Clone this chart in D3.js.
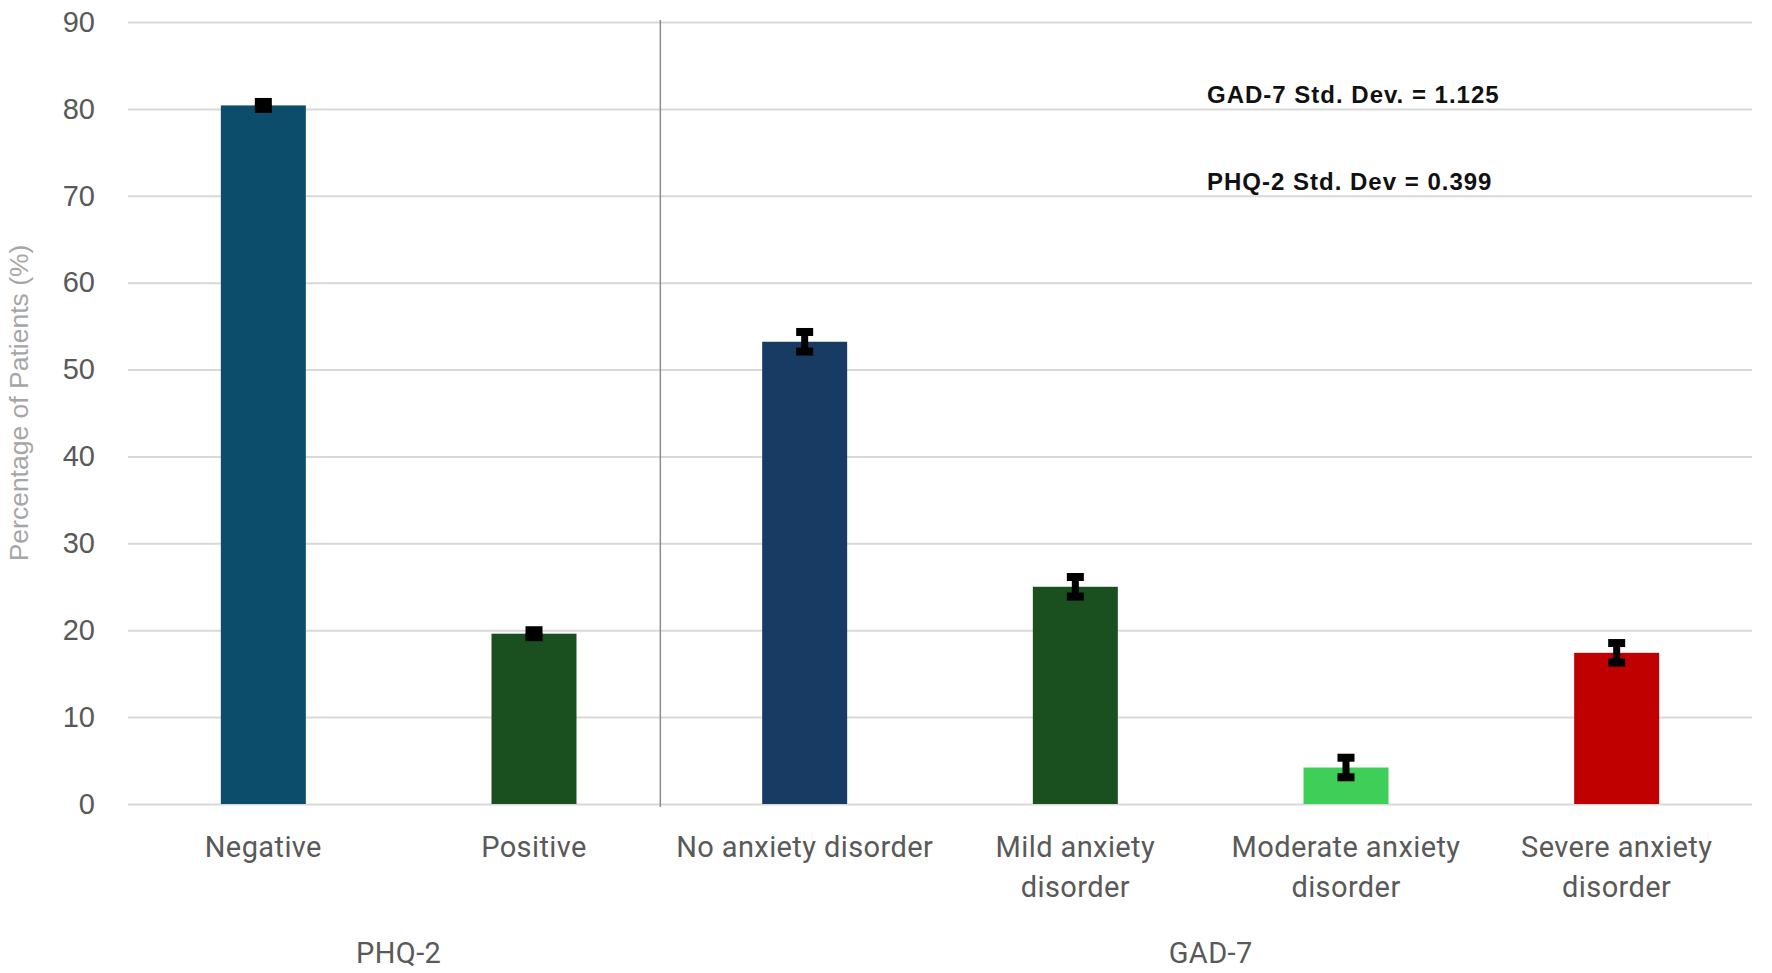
<!DOCTYPE html>
<html>
<head>
<meta charset="utf-8">
<script src="https://cdn.jsdelivr.net/npm/d3@7"></script>
<style>
  body { margin: 0; background: #fff; }
  #chart svg { display: block; }
</style>
</head>
<body>
<div id="chart"></div>
<script>
const categories = [
  'Negative',
  'Positive',
  'No anxiety disorder',
  'Mild anxiety disorder',
  'Moderate anxiety disorder',
  'Severe anxiety disorder',
];
const labelLines = [
  ['Negative'],
  ['Positive'],
  ['No anxiety disorder'],
  ['Mild anxiety', 'disorder'],
  ['Moderate anxiety', 'disorder'],
  ['Severe anxiety', 'disorder'],
];
const groupOf = ['PHQ-2', 'PHQ-2', 'GAD-7', 'GAD-7', 'GAD-7', 'GAD-7'];
const groups = ['PHQ-2', 'GAD-7'];
const percentages = [80.4, 19.6, 53.2, 25.0, 4.2, 17.4];
const stdDevs = [0.399, 0.399, 1.125, 1.125, 1.125, 1.125];
const yTicks = [0, 10, 20, 30, 40, 50, 60, 70, 80, 90];
const notes = ['GAD-7 Std. Dev. = 1.125', 'PHQ-2 Std. Dev = 0.399'];

const barColors = ['#0b4d6a', '#1a4f1f', '#183b63', '#1a4f1f', '#3fce58', '#c00000'];

const chartW = 1772;
const chartH = 973;
const plotLeft = 128;
const plotRight = 1752;
const plotTop = 22;
const plotBottom = 804;

const data = categories.map((c, i) => ({
  category: c,
  value: percentages[i],
  sd: stdDevs[i],
  lines: labelLines[i],
  group: groupOf[i],
}));

const svg = d3
  .select('#chart')
  .append('svg')
  .attr('width', chartW)
  .attr('height', chartH);

svg.append('rect').attr('width', chartW).attr('height', chartH).attr('fill', '#fff');

const x = d3.scaleBand().domain(categories).range([plotLeft, plotRight]).padding(0);
const y = d3.scaleLinear().domain([0, 90]).range([plotBottom, plotTop]);

// gridlines + y labels
const yAxis = svg
  .append('g')
  .attr('transform', `translate(${plotLeft},0)`)
  .call(
    d3
      .axisLeft(y)
      .tickValues(yTicks)
      .tickSize(-(plotRight - plotLeft))
      .tickPadding(33),
  );
yAxis.select('.domain').remove();
yAxis.selectAll('.tick line').attr('stroke', '#d9d9d9').attr('stroke-width', 2);
yAxis
  .selectAll('.tick text')
  .attr('fill', '#595959')
  .style('font-family', '"Liberation Sans", Arial, sans-serif')
  .style('font-size', '29px');

svg
  .append('text')
  .attr('transform', 'translate(28,403) rotate(-90)')
  .style('text-anchor', 'middle')
  .style('font-family', '"Liberation Sans", Arial, sans-serif')
  .style('font-size', '26.5px')
  .attr('fill', '#a6a6a6')
  .text('Percentage of Patients (%)');

// group divider
svg
  .append('line')
  .attr('x1', x(categories[2]) - 9)
  .attr('x2', x(categories[2]) - 9)
  .attr('y1', plotTop - 2)
  .attr('y2', plotBottom + 3)
  .attr('stroke', '#8c8c8c')
  .attr('stroke-width', 1.5);

// bars
const barW = x.bandwidth() * 0.314;
const cx = (d) => x(d.category) + x.bandwidth() / 2;

svg
  .append('g')
  .selectAll('rect')
  .data(data)
  .enter()
  .append('rect')
  .attr('x', (d) => cx(d) - barW / 2)
  .attr('y', (d) => y(d.value))
  .attr('width', barW)
  .attr('height', (d) => y(0) - y(d.value))
  .attr('fill', (d, i) => barColors[i]);

// error bars
const err = svg.append('g').attr('fill', '#000');
data.forEach((d) => {
  const yHi = y(d.value + d.sd);
  const yLo = y(d.value - d.sd);
  err
    .append('rect')
    .attr('x', cx(d) - 3.5)
    .attr('y', yHi)
    .attr('width', 7)
    .attr('height', yLo - yHi);
  [yHi, yLo].forEach((yy) => {
    err
      .append('rect')
      .attr('x', cx(d) - 8.5)
      .attr('y', yy - 4)
      .attr('width', 17)
      .attr('height', 8);
  });
});

// category labels
const xAxis = svg
  .append('g')
  .attr('transform', `translate(0,${plotBottom})`)
  .call(d3.axisBottom(x).tickSize(0).tickFormat(''));
xAxis.select('.domain').remove();
xAxis.selectAll('.tick text').remove();
xAxis
  .selectAll('.tick')
  .data(data)
  .append('text')
  .attr('fill', '#595959')
  .style('text-anchor', 'middle')
  .style('font-family', 'Roboto, sans-serif')
  .style('font-size', '29px')
  .style('letter-spacing', '0.4px')
  .selectAll('tspan')
  .data((d) => d.lines)
  .enter()
  .append('tspan')
  .attr('x', 0)
  .attr('y', (d, i) => 53 + i * 40)
  .text((d) => d);

// group labels
svg
  .append('g')
  .selectAll('text')
  .data(groups)
  .enter()
  .append('text')
  .attr('x', (g) => {
    const cats = data.filter((d) => d.group === g);
    const x0 = x(cats[0].category);
    const x1 = x(cats[cats.length - 1].category) + x.bandwidth();
    return (x0 + x1) / 2;
  })
  .attr('y', 963)
  .attr('fill', '#595959')
  .style('text-anchor', 'middle')
  .style('font-family', 'Roboto, sans-serif')
  .style('font-size', '29px')
  .style('letter-spacing', '0.4px')
  .text((g) => g);

// std dev notes
svg
  .append('g')
  .selectAll('text')
  .data(notes)
  .enter()
  .append('text')
  .attr('x', 1207)
  .attr('y', (d, i) => 103 + i * 87)
  .attr('fill', '#111')
  .style('font-family', '"Liberation Sans", Arial, sans-serif')
  .style('font-weight', 'bold')
  .style('font-size', '24px')
  .style('letter-spacing', '1px')
  .text((d) => d);
</script>
</body>
</html>
